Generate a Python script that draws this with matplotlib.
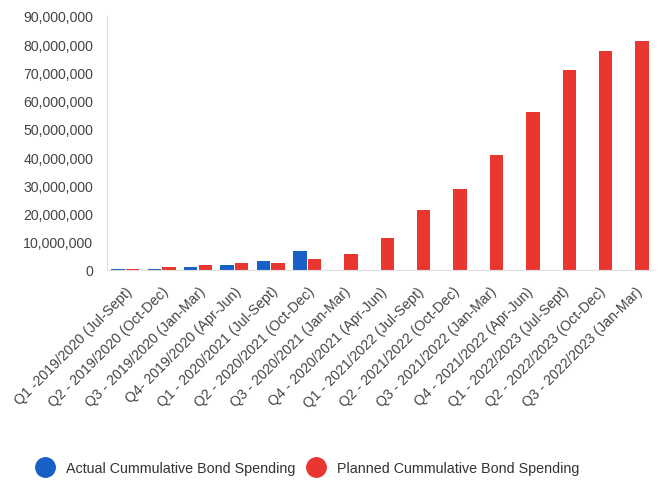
import numpy as np
import matplotlib.pyplot as plt
from matplotlib.lines import Line2D

plt.rcParams['font.family'] = ['Liberation Sans', 'DejaVu Sans']

# Quarter labels
quarters = ['Q1 -2019/2020 (Jul-Sept)', 'Q2 - 2019/2020 (Oct-Dec)', 'Q3 - 2019/2020 (Jan-Mar)',
            'Q4- 2019/2020 (Apr-Jun)', 'Q1 - 2020/2021 (Jul-Sept)', 'Q2 - 2020/2021 (Oct-Dec)',
            'Q3 - 2020/2021 (Jan-Mar)', 'Q4 - 2020/2021 (Apr-Jun)', 'Q1 - 2021/2022 (Jul-Sept)',
            'Q2 - 2021/2022 (Oct-Dec)', 'Q3 - 2021/2022 (Jan-Mar)', 'Q4 - 2021/2022 (Apr-Jun)',
            'Q1 - 2022/2023 (Jul-Sept)', 'Q2 - 2022/2023 (Oct-Dec)', 'Q3 - 2022/2023 (Jan-Mar)']

# Cumulative spending, NaN = no bar
actual = [500000, 500000, 900000, 1600000, 3200000, 6700000,
          np.nan, np.nan, np.nan, np.nan, np.nan, np.nan, np.nan, np.nan, np.nan]
planned = [500000, 1200000, 1600000, 2400000, 2400000, 4000000, 5700000, 11500000,
           21300000, 28700000, 40800000, 55900000, 70700000, 77700000, 81200000]

blue = '#1660C6'
red = '#E93631'

fig = plt.figure(figsize=(6.59, 4.81), dpi=100)
ax = fig.add_axes([107/659, 1 - 271/481, 546/659, 254/481])

x = np.arange(len(quarters))
w = 0.37
ax.bar(x - 0.2, actual, w, color=blue)
ax.bar(x + 0.2, planned, w, color=red)

ax.set_xlim(-0.5, len(quarters) - 0.5)
ax.set_ylim(0, 90000000)
ax.set_yticks(np.arange(0, 90000001, 10000000))
ax.set_yticklabels(['{:,}'.format(v) for v in range(0, 90000001, 10000000)])
ax.set_xticks(x)
ax.set_xticklabels(quarters, rotation=45, ha='right', rotation_mode='anchor')

for s in ['top', 'right']:
    ax.spines[s].set_visible(False)
ax.spines['left'].set_color('#e0e0e0')
ax.spines['bottom'].set_color('#e0e0e0')
ax.tick_params(axis='both', length=0, colors='#444444', labelsize=10.2)
ax.tick_params(axis='y', pad=10)
ax.tick_params(axis='x', pad=10)

handles = [Line2D([], [], marker='o', ls='', color=blue, markersize=14),
           Line2D([], [], marker='o', ls='', color=red, markersize=14)]
fig.legend(handles, ['Actual Cummulative Bond Spending', 'Planned Cummulative Bond Spending'],
           loc='center left', bbox_to_anchor=(0.027, 1 - 469/481), ncol=2, frameon=False,
           fontsize=10.3, handletextpad=0.45, columnspacing=0.45, labelcolor='#333333')

fig.savefig('out.png', dpi=100)
